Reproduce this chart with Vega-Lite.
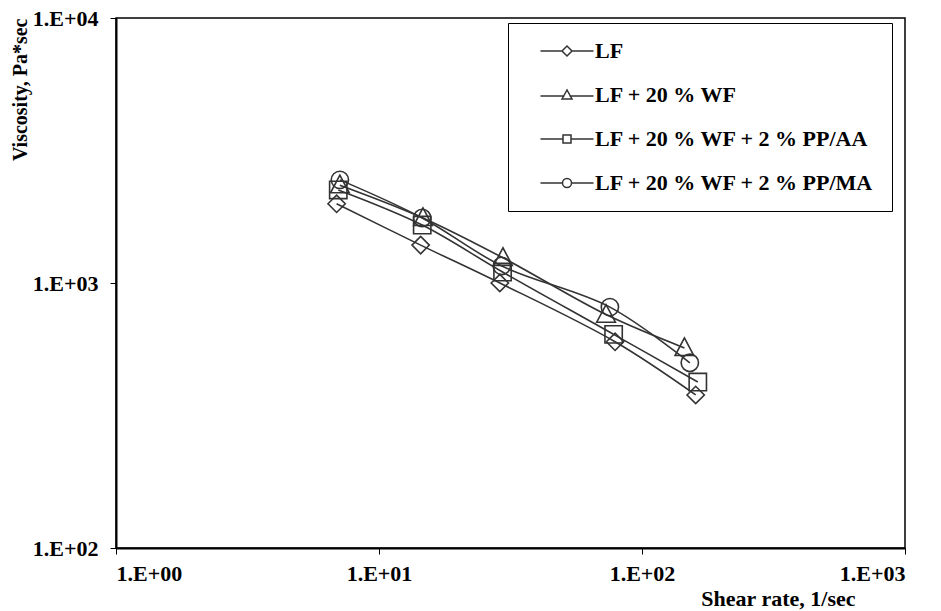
{
  "$schema": "https://vega.github.io/schema/vega-lite/v6.json",
  "width": 789,
  "height": 530,
  "autosize": "none",
  "padding": {"left": 116, "top": 18, "right": 36, "bottom": 63},
  "background": "white",
  "config": {
    "font": "Liberation Serif",
    "view": {"stroke": "#000", "strokeWidth": 1.5},
    "axis": {
      "grid": false,
      "domainColor": "#000",
      "domainWidth": 2,
      "tickColor": "#000",
      "tickSize": 6,
      "tickWidth": 1,
      "labelFont": "Liberation Serif",
      "labelFontSize": 22,
      "labelFontWeight": "bold",
      "labelColor": "#000",
      "titleFont": "Liberation Serif",
      "titleFontSize": 22,
      "titleFontWeight": "bold",
      "titleColor": "#000"
    }
  },
  "data": {
    "values": [
      {"series": "LF", "rate": 6.9, "visc": 1990},
      {"series": "LF", "rate": 14.4, "visc": 1390},
      {"series": "LF", "rate": 28.8, "visc": 1000},
      {"series": "LF", "rate": 79, "visc": 600},
      {"series": "LF", "rate": 160, "visc": 378},
      {"series": "LF + 20 % WF", "rate": 7.1, "visc": 2340},
      {"series": "LF + 20 % WF", "rate": 14.7, "visc": 1760},
      {"series": "LF + 20 % WF", "rate": 29.6, "visc": 1245},
      {"series": "LF + 20 % WF", "rate": 73, "visc": 760},
      {"series": "LF + 20 % WF", "rate": 145, "visc": 569},
      {"series": "LF + 20 % WF + 2 % PP/AA", "rate": 7.0, "visc": 2245},
      {"series": "LF + 20 % WF + 2 % PP/AA", "rate": 14.6, "visc": 1655},
      {"series": "LF + 20 % WF + 2 % PP/AA", "rate": 29.5, "visc": 1100},
      {"series": "LF + 20 % WF + 2 % PP/AA", "rate": 78, "visc": 640},
      {"series": "LF + 20 % WF + 2 % PP/AA", "rate": 163, "visc": 423},
      {"series": "LF + 20 % WF + 2 % PP/MA", "rate": 7.1, "visc": 2450},
      {"series": "LF + 20 % WF + 2 % PP/MA", "rate": 14.6, "visc": 1760},
      {"series": "LF + 20 % WF + 2 % PP/MA", "rate": 29.3, "visc": 1160},
      {"series": "LF + 20 % WF + 2 % PP/MA", "rate": 75.5, "visc": 811},
      {"series": "LF + 20 % WF + 2 % PP/MA", "rate": 152, "visc": 500}
    ]
  },
  "encoding": {
    "x": {
      "field": "rate",
      "type": "quantitative",
      "scale": {"type": "log", "domain": [1, 1000], "nice": false},
      "axis": {
        "values": [1, 10, 100, 1000],
        "labelExpr": "'1.E+0' + round(log(datum.value)/LN10)",
        "labelPadding": 9,
        "title": "Shear rate, 1/sec",
        "titleX": 739,
        "titleY": 40,
        "titleAlign": "right",
        "titleBaseline": "top"
      }
    },
    "y": {
      "field": "visc",
      "type": "quantitative",
      "scale": {"type": "log", "domain": [100, 10000], "nice": false},
      "axis": {
        "values": [100, 1000, 10000],
        "labelExpr": "'1.E+0' + round(log(datum.value)/LN10)",
        "labelPadding": 12,
        "title": "Viscosity, Pa*sec",
        "titleFontSize": 20,
        "titleAnchor": "end",
        "titlePadding": 2
      }
    }
  },
  "layer": [
    {
      "mark": {"type": "line", "interpolate": "catmull-rom", "color": "#333", "strokeWidth": 1.6},
      "encoding": {"detail": {"field": "series"}}
    },
    {
      "mark": {"type": "point", "filled": false, "color": "#333", "size": 300, "strokeWidth": 1.6, "opacity": 1},
      "encoding": {
        "shape": {
          "field": "series",
          "scale": {
            "domain": ["LF", "LF + 20 % WF", "LF + 20 % WF + 2 % PP/AA", "LF + 20 % WF + 2 % PP/MA"],
            "range": ["diamond", "M0,-1.15L-1.08,0.88L1.08,0.88Z", "square", "circle"]
          },
          "legend": null
        }
      }
    },
    {
      "mark": {"type": "point", "filled": false, "color": "#333", "opacity": 0},
      "encoding": {
        "shape": {
          "field": "series",
          "scale": {
            "domain": ["LF", "LF + 20 % WF", "LF + 20 % WF + 2 % PP/AA", "LF + 20 % WF + 2 % PP/MA"],
            "range": [
              "M-2.65,0H-0.5M0.5,0H2.65M-0.5,0L0,-0.5L0.5,0L0,0.5Z",
              "M-2.65,0.1H-0.25M0.25,0.1H2.65M-0.5,0.4L0,-0.5L0.5,0.4Z",
              "M-2.65,0H-0.4M0.4,0H2.65M-0.4,-0.4H0.4V0.4H-0.4Z",
              "M-2.65,0H-0.45M0.45,0H2.65M0.45,0A0.45,0.45,0,1,1,-0.45,0A0.45,0.45,0,1,1,0.45,0Z"
            ]
          },
          "legend": {
            "title": null,
            "orient": "none",
            "legendX": 392,
            "legendY": 5,
            "strokeColor": "#000",
            "fillColor": "white",
            "padding": 17,
            "symbolOffset": 31,
            "symbolSize": 400,
            "symbolOpacity": 1,
            "symbolStrokeColor": "#333",
            "symbolStrokeWidth": 1.5,
            "symbolFillColor": "transparent",
            "labelFont": "Liberation Serif",
            "labelFontSize": 22,
            "labelFontWeight": "bold",
            "labelColor": "#000",
            "labelLimit": 400,
            "labelOffset": 17,
            "rowPadding": 22
          }
        }
      }
    }
  ],
  "resolve": {"scale": {"shape": "independent"}, "legend": {"shape": "independent"}}
}
